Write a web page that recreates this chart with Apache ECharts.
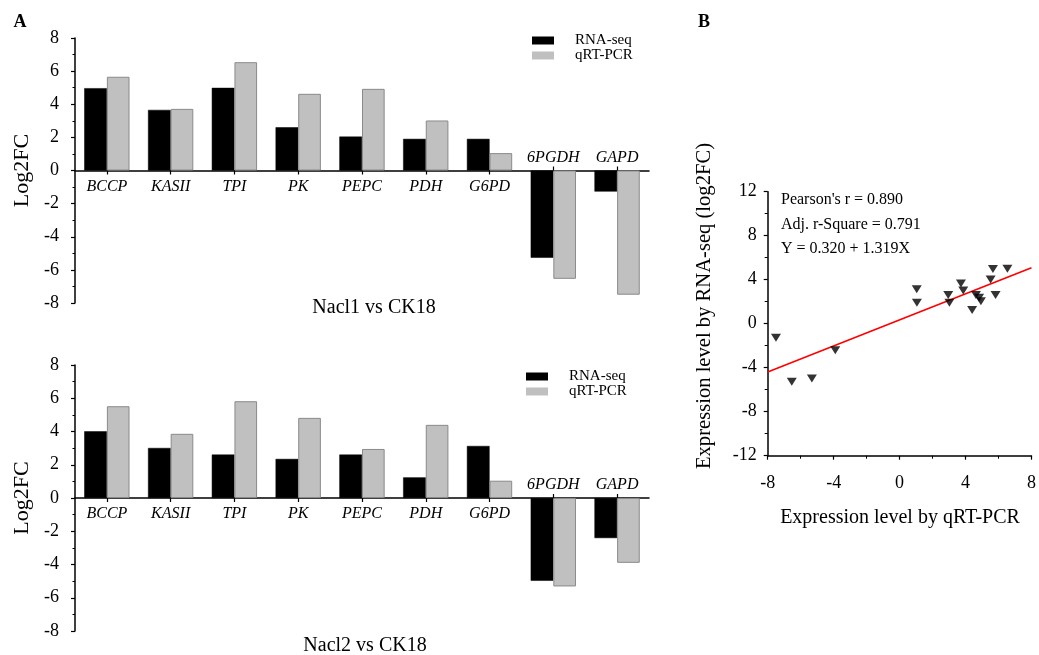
<!DOCTYPE html>
<html>
<head>
<meta charset="utf-8">
<script src="https://cdn.jsdelivr.net/npm/echarts@6/dist/echarts.min.js"></script>
<style>
  html, body { margin: 0; padding: 0; background: #ffffff; }
  #chart { width: 1039px; height: 655px; }
</style>
</head>
<body>
<div id="chart"></div>
<script>
// ---- data ----
const categories = ['BCCP', 'KASII', 'TPI', 'PK', 'PEPC', 'PDH', 'G6PD', '6PGDH', 'GAPD'];
const nacl1RnaSeq = [4.97, 3.66, 4.99, 2.61, 2.05, 1.91, 1.91, -5.27, -1.27];
const nacl1QrtPcr = [5.66, 3.72, 6.54, 4.63, 4.93, 3.02, 1.05, -6.54, -7.50];
const nacl2RnaSeq = [4.01, 3.01, 2.61, 2.35, 2.61, 1.24, 3.13, -4.98, -2.41];
const nacl2QrtPcr = [5.52, 3.86, 5.82, 4.82, 2.95, 4.40, 1.04, -5.32, -3.90];
const seriesNames = ['RNA-seq', 'qRT-PCR'];
const panelTitles = ['Nacl1 vs CK18', 'Nacl2 vs CK18'];
const panelLetters = ['A', 'B'];
const fitLineX = [-8, 8];
const fitLineY = [-4.39, 5.09];
const statLines = ["Pearson's r = 0.890", 'Adj. r-Square = 0.791', 'Y = 0.320 + 1.319X'];
const scatterXName = 'Expression level by qRT-PCR';
const scatterYName = 'Expression level by RNA-seq (log2FC)';
const barYName = 'Log2FC';

// ---- derived tables ----
const scatterPoints = [];
[[nacl1QrtPcr, nacl1RnaSeq], [nacl2QrtPcr, nacl2RnaSeq]].forEach(function (pair) {
  for (let i = 0; i < categories.length; i++) scatterPoints.push([pair[0][i], pair[1][i]]);
});
const fitLine = fitLineX.map(function (x, i) { return [x, fitLineY[i]]; });
const negIdx = categories.map(function (c, i) { return nacl1RnaSeq[i] < 0; });

const FONT = '"Liberation Serif", "Times New Roman", serif';
const BLACK = '#000000';
const GRAY = '#c0c0c0';

// bar grids (y range symmetric -8..8, so the zero line sits at half height)
const barGrids = [
  { left: 75, top: 38, width: 574, height: 265 },
  { left: 75, top: 365, width: 574, height: 266 }
];

function barXAxes(grid) {
  const half = barGrids[grid].height / 2;
  return [
    {
      type: 'category', gridIndex: grid, data: categories, position: 'bottom', offset: -half,
      axisLine: { show: true, onZero: false, lineStyle: { color: BLACK, width: 1.5 } },
      axisTick: { show: true, alignWithLabel: true, length: 4, lineStyle: { color: BLACK, width: 1.2 },
                  interval: function (i) { return !negIdx[i]; } },
      axisLabel: { show: true, margin: 8, fontFamily: FONT, fontSize: 16, fontStyle: 'italic', color: BLACK,
                   interval: function (i) { return !negIdx[i]; } },
      splitLine: { show: false }
    },
    {
      type: 'category', gridIndex: grid, data: categories, position: 'top', offset: -half,
      axisLine: { show: false, onZero: false },
      axisTick: { show: true, alignWithLabel: true, length: 4, lineStyle: { color: BLACK, width: 1.2 },
                  interval: function (i) { return negIdx[i]; } },
      axisLabel: { show: true, margin: 5, fontFamily: FONT, fontSize: 16, fontStyle: 'italic', color: BLACK,
                   interval: function (i) { return negIdx[i]; } },
      splitLine: { show: false }
    }
  ];
}

function barYAxis(grid) {
  return {
    type: 'value', gridIndex: grid, min: -8, max: 8, interval: 2,
    name: barYName, nameLocation: 'middle', nameGap: 42, nameRotate: 90,
    nameTextStyle: { fontFamily: FONT, fontSize: 22, color: BLACK },
    axisLine: { show: true, lineStyle: { color: BLACK, width: 1.5 } },
    axisTick: { show: true, length: 4, lineStyle: { color: BLACK, width: 1.2 } },
    minorTick: { show: true, splitNumber: 2, length: 2.5, lineStyle: { color: BLACK, width: 1 } },
    axisLabel: { margin: 16, fontFamily: FONT, fontSize: 18, color: BLACK },
    splitLine: { show: false }
  };
}

function barSeries(xIdx, yIdx, rna, qrt) {
  return [
    { name: seriesNames[0], type: 'bar', xAxisIndex: xIdx, yAxisIndex: yIdx, data: rna,
      barGap: '0%', barCategoryGap: '29%',
      itemStyle: { color: BLACK, borderColor: BLACK, borderWidth: 0.5 } },
    { name: seriesNames[1], type: 'bar', xAxisIndex: xIdx, yAxisIndex: yIdx, data: qrt,
      barGap: '0%', barCategoryGap: '29%',
      itemStyle: { color: GRAY, borderColor: '#8a8a8a', borderWidth: 1 } }
  ];
}

function legend(left, top) {
  return {
    data: seriesNames, orient: 'vertical', left: left, top: top, icon: 'rect',
    itemWidth: 22, itemHeight: 8, itemGap: 0, padding: 0,
    itemStyle: { borderWidth: 0 },
    textStyle: { fontFamily: FONT, fontSize: 15, color: BLACK, lineHeight: 15,
                 rich: { t: { fontFamily: FONT, fontSize: 15, color: BLACK, padding: [0, 0, 0, 16] } } },
    formatter: function (n) { return '{t|' + n + '}'; },
    selectedMode: false
  };
}

function txt(text, x, y, size, opts) {
  opts = opts || {};
  return {
    type: 'text', x: x, y: y, rotation: opts.rotation || 0,
    style: { text: text, x: 0, y: 0, fill: BLACK, align: opts.align || 'center', verticalAlign: 'middle',
             font: (opts.bold ? 'bold ' : '') + size + 'px ' + FONT }
  };
}

const chart = echarts.init(document.getElementById('chart'), null, { renderer: 'canvas' });
const option = {
  backgroundColor: '#ffffff',
  animation: false,
  grid: barGrids.concat([{ left: 767.7, top: 191.7, width: 265.6, height: 264 }]),
  legend: [legend(532, 33), legend(526, 369)],
  xAxis: barXAxes(0).concat(barXAxes(1)).concat([{
    type: 'value', gridIndex: 2, min: -8, max: 8, interval: 4,
    axisLine: { show: true, onZero: false, lineStyle: { color: BLACK, width: 1.5 } },
    axisTick: { show: true, length: 4, lineStyle: { color: BLACK, width: 1.2 } },
    minorTick: { show: true, splitNumber: 2, length: 3, lineStyle: { color: BLACK, width: 1 } },
    axisLabel: { margin: 19, fontFamily: FONT, fontSize: 18, color: BLACK },
    splitLine: { show: false }
  }]),
  yAxis: [barYAxis(0), barYAxis(1), {
    type: 'value', gridIndex: 2, min: -12, max: 12, interval: 4,
    axisLine: { show: true, onZero: false, lineStyle: { color: BLACK, width: 1.5 } },
    axisTick: { show: true, length: 4, lineStyle: { color: BLACK, width: 1.2 } },
    minorTick: { show: true, splitNumber: 2, length: 3, lineStyle: { color: BLACK, width: 1 } },
    axisLabel: { margin: 11, fontFamily: FONT, fontSize: 18, color: BLACK },
    splitLine: { show: false }
  }],
  series: barSeries(0, 0, nacl1RnaSeq, nacl1QrtPcr)
    .concat(barSeries(2, 1, nacl2RnaSeq, nacl2QrtPcr))
    .concat([
      { name: 'fit', type: 'line', xAxisIndex: 4, yAxisIndex: 2, data: fitLine,
        showSymbol: false, symbol: 'none', lineStyle: { color: '#ff0000', width: 1.6 }, z: 2 },
      { name: 'points', type: 'scatter', xAxisIndex: 4, yAxisIndex: 2, data: scatterPoints,
        symbol: 'triangle', symbolRotate: 180, symbolSize: [10, 8],
        itemStyle: { color: BLACK }, z: 3 }
    ]),
  graphic: [
    txt(panelLetters[0], 20, 22, 18, { bold: true }),
    txt(panelLetters[1], 704, 22, 18, { bold: true }),
    txt(panelTitles[0], 374, 308, 20),
    txt(panelTitles[1], 365, 646, 20),
    txt(statLines[0], 781, 200, 16, { align: 'left' }),
    txt(statLines[1], 781, 225, 16, { align: 'left' }),
    txt(statLines[2], 781, 249, 16, { align: 'left' }),
    txt(scatterXName, 900, 518, 20),
    txt(scatterYName, 705, 306, 20.6, { rotation: Math.PI / 2 })
  ]
};
chart.setOption(option);
</script>
</body>
</html>
